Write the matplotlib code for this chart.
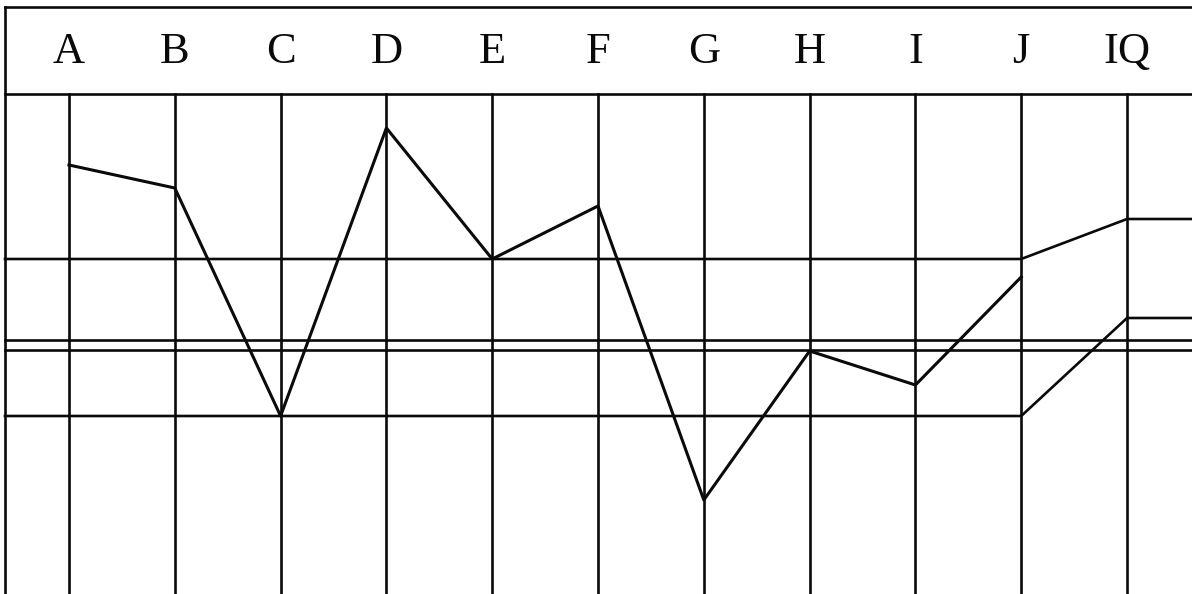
import matplotlib
matplotlib.use("Agg")
import matplotlib.pyplot as plt

# Profile data (scores on an arbitrary scale)
labels = ["A", "B", "C", "D", "E", "F", "G", "H", "I", "J", "IQ"]
scores = [42.9, 40.6, 17.8, 46.6, 33.5, 38.8, 9.4, 24.3, 20.9, 31.7]
upper_ref = 33.5      # upper band line, A..J
lower_ref = 17.8      # lower band line, A..J
mid_refs = [25.4, 24.4]  # double line across the whole chart
iq_upper = 37.5
iq_lower = 27.6

fig = plt.figure(figsize=(11.92, 5.94), dpi=100)
ax = fig.add_axes([0, 0, 1, 1])
ax.set_xlim(-0.652, 10.614)
ax.set_ylim(0, 59.4)
ax.axis("off")

lw = 1.9
col = "#0a0a0a"
left = -0.605
right = 10.614
head_top = 58.7
head_bot = 50.0
n = len(labels)

# header box
ax.plot([left, right], [head_top, head_top], color=col, lw=lw)
ax.plot([left, right], [head_bot, head_bot], color=col, lw=lw)
ax.plot([left, left], [0, head_top], color=col, lw=lw)
for i, lab in enumerate(labels):
    ax.text(i, 54.2, lab, ha="center", va="center", fontsize=32,
            family="Liberation Serif", color=col)

# column lines
for i in range(n):
    ax.plot([i, i], [0, head_bot], color=col, lw=lw)

# reference lines
for r in mid_refs:
    ax.plot([left, right], [r, r], color=col, lw=lw)
j = n - 2
ax.plot([left, j, j + 1, right], [upper_ref, upper_ref, iq_upper, iq_upper], color=col, lw=lw)
ax.plot([left, j, j + 1, right], [lower_ref, lower_ref, iq_lower, iq_lower], color=col, lw=lw)

# profile
ax.plot(range(len(scores)), scores, color=col, lw=2.2)

fig.savefig("out.png", dpi=100, facecolor="white")
